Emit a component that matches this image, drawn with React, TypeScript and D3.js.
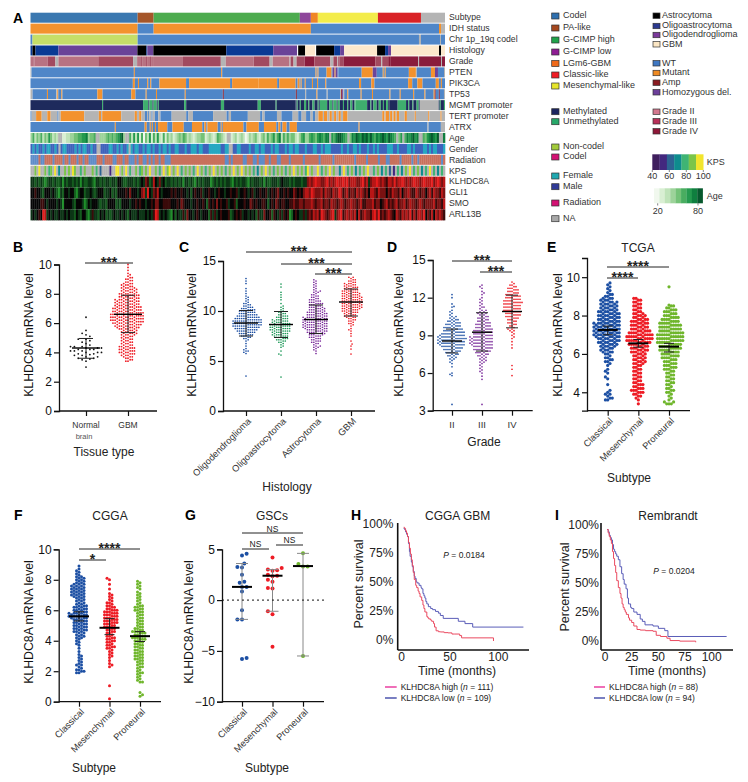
import React, { useEffect, useRef } from 'react';
import * as d3 from 'd3';

const FONT = '"Liberation Sans", Arial, sans-serif';

// ---- panel A: annotation tracks, run lengths ----
const subtypeRuns = 'C107 P16 H146 L11 G7 Y60 R43 n24';
const idhRuns = 'M107 W16 M157 W128 M2 n4';
const codelRuns = 'W2 L105 W281 n2 W19 n1 W4';
const histologyRuns =
  'O2 K3 O23 D79 K9 O1 D6 K73 O47 D24 w1 K7 G10 w1 K18 O6 D4 G33 K8 O3 D3 G48 K2 G4';
const gradeRuns =
  'a3 b1 a13 b8 n3 a40 b35 n4 a4 b1 a4 b1 a3 b1 a2 a30 b38 n5 a28 b16 n3 a17 n1 b3 n3 b8 c10 b16 n3 b4 n1 c1 b4 c32 b6 n1 b6 c2 c28 n1 c22 n1 c3';
const ptenRuns =
  'n1 W102 M1 W86 M1 W93 M1 W1 M1 W8 M5 W1 H2 M1 H2 W1 W23 M11 H4 W6 M1 W1 M1 W23 M7 n1 W14 M4 H3 W6 n1';
const pik3caRuns =
  'W100 M2 W3 M1 W8 M1 W2 M1 W8 M26 W3 M40 W2 M26 M18 W2 M16 W2 M2 W1 M1 W3 M1 W6 M1 W4 M1 W7 M1 W32 M2 W10 M3 W33 M4 W5 M5 W13 M3 W2 M1 W3';
const tp53Runs =
  'n2 W14 M1 W8 n1 M1 W3 M1 W34 M5 W28 M4 W10 M1 W9 M1 W27 M1 W36 A1 W70 A1 W8 n1 W10 M1 W9 n1 W12 n1 A1 H1 n1 W3 M1 W12 M1 W10 M1 W16 M1 W9 M1 W12 M1 W10 M1 W8 M1 A1 W3 A1 W4 n1';
const mgmtRuns =
  'D68 U1 D38 U5 D1 U3 D1 U3 D1 U1 D24 U2 D33 U3 D32 U3 D14 U1 D18 D1 U1 D2 U1 D3 U2 D2 U1 D3 U2 D3 U1 D1 U7 D2 U3 D1 U3 D1 U2 D3 U1 D3 U1 D2 U2 D2 U1 U11 D3 U1 D2 U3 D2 U2 D2 U1 D2 U2 D1 D8 U8 D2 U1 D3 U1 D3 U2 D1 n18 D1 U1 D3 U1';
const tertRuns =
  'W1 n4 M5 n5 M3 n6 W1 n2 M21 n13 M2 n1 M17 n12 M2 n2 M2 n3 W2 n1 W1 n2 W1 n2 W3 n2 W10 n13 W2 n4 W18 n12 W2 n2 W15 n11 W2 n2 W11 n4 W10 n5 W3 n4 W4 n2 W2 n3 M4 n1 M3 n2 M2 n2 M2 n2 M2 n2 M4 n31 M2 n1 M3 n1 M2 n1 M2 n1 M2 n5 M2 n7 M1 n11 M1 n10 M1 n3';
const atrxRuns =
  'W82 M1 W28 M2 W3 M1 W1 M1 W2 M1 W2 M1 M8 W5 M11 W8 M10 W2 M2 W1 M10 W3 M1 W1 M5 M15 W3 M12 W5 M12 W2 M2 W2 M4 W3 M7 W60 M1 W66 n1 W12 n4';

// ---- stripes: one character per sample, three stretches across the width ----
const ageStripes = [
  '352435243642 32..1122334455667344 5..333454545678 3..5262615042615262 1514'.replace(/ /g, ''),
  '23123435423212334412321254321..12312320132342134253463572535344213563',
  '35654676577.65788765.47687687868657678768765.46.5767867..54678768..7',
];
const genderStripes = [
  'MFMFMMFMFFMMFM.MFFMMMMFMFMFFMMFMM..MMMMFFMMFMFMMF.FMFFMMFMFFMFMMFMFFM',
  'FMMFFMMMFMMFFFMFFMMMFFFFFFMMFF..MMFFMMMMFMMFFMFFMMMFMFFMMMFMFFMFFMMMF',
  'MMMFFMMFMFFFMMMMMFMMFMMFFMFMMMFMMFMFMMMMFFFMMFMMMMFFMFMMMMFFMFMFFMMMF',
];
const radiationStripes = [
  'NNNNRNNRRRRNRRRRNRRNRRRNRRNRRNNNNRRRNRRRRNNRRRNRRNNNRNRRNNRNRNRRNRRNN',
  'NRRRRRRRRRRRRRRRRRRRRRRRRRRRNNRNRRRRRNNRRRNNRNNNRRNRRRNNRRRRNRRRRRRNR',
  'RRRRRRNRRRRRRNRRRRRRRRRRNRRRRRNRRRRRNRRRNNRRRRRNRRRRRNRRNRRRRRRRRRRRNR',
];
const kpsStripes = [
  '..5.6..5.45.6.3..5.5.65..4.5...5.4.2....1..66.5.6.4..5.45.5.6..5.4.6.5',
  '6.5.6.4.5.5.4.6.5.4.5.6.5.5.4.5.6.5.6.5.5.4.3.5.6.5.4.5.5.4.5.6.5.5.4',
  '6.5..6.4.5.6.5..3.6.4.5.3.4.5.6..4.5.3.4.2.1.4.3.5.6.4.5.3.4.6.4.3.4.',
];
const klhdc8aStripes = [
  '3323232123323223132332323132233213323233233244322333232343652374363423',
  '3232323133232132323331232323233213232332132333231322333234333232333233',
  '6767877667867678778786777667867367787676577686778767678776787778678767',
];
const gli1Stripes = [
  '4454432444343213244344213442334323444233423244445464443467384365743444',
  '4545445443424544534454434544344544534454345344544534545644545446545467',
  '7687666757665766875675665767656477657666465766574667655765664675766576',
];
const smoStripes = [
  '4444455434444343144443244431243444323324444232444434454544344546644555',
  '5444546544434454454254546454453445244454465454455424546545544556556656',
  '6676566756657665676566766567556667566456756567566756766567656666756657',
];
const arl13bStripes = [
  '3434548734343343343433243244213533243423234334343243334333434358734343',
  '2142433536443454344425353454445234545344343425336445254353545124543353',
  '5657675876567836785676767475676657868565676547657676857577684657476765',
];

const NA = '#b4b4b4';
const altColors: Record<string, string> = { W: '#4f86c8', M: '#f3922e', A: '#8e2230', H: '#6c449a', n: NA };
const agePalette = ['#f1f8ee', '#d9efd3', '#bfe3b9', '#9dd39a', '#74c278', '#49ad60', '#259a4f', '#0f7f3f', '#07592e'];
const kpsPalette = ['#3f1f5e', '#43287f', '#2d6392', '#0e8c8e', '#3fb474', '#7bc549', '#f2e52d'];
const exprPalette = ['#35c435', '#1f8f2a', '#145c1e', '#0c3516', '#050505', '#3a0a0a', '#7a1212', '#b81616', '#e81c1c'];

const subtypeColors = { C: '#3b78b0', P: '#a5562a', H: '#4dac4f', L: '#8e479b', G: '#f08626', Y: '#f3ec4a', R: '#d92226', n: NA };
const histColors = { O: '#0a3a94', D: '#6a4398', K: '#000000', G: '#fce8cc', w: '#ffffff', n: NA };
const gradeColors = { a: '#b87282', b: '#a24a60', c: '#8a1c3c', n: NA };
const mgmtColors = { D: '#1e2a5c', U: '#3fae6e', n: NA };
const genderColors = { F: '#26a8c2', M: '#3f62bb', '.': NA };
const radColors = { R: '#c8705c', N: '#5f8cc8', '.': NA };

const digitColors = (pal: string[]) => {
  const o: Record<string, string> = { '.': NA };
  pal.forEach((c, i) => (o[String(i)] = c));
  return o;
};

const runTracks = [
  { label: 'Subtype', runs: subtypeRuns, colors: subtypeColors },
  { label: 'IDH status', runs: idhRuns, colors: altColors },
  { label: 'Chr 1p_19q codel', runs: codelRuns, colors: { W: '#4f86c8', L: '#c5de68', n: NA } },
  { label: 'Histology', runs: histologyRuns, colors: histColors },
  { label: 'Grade', runs: gradeRuns, colors: gradeColors },
  { label: 'PTEN', runs: ptenRuns, colors: altColors },
  { label: 'PIK3CA', runs: pik3caRuns, colors: altColors },
  { label: 'TP53', runs: tp53Runs, colors: altColors },
  { label: 'MGMT promoter', runs: mgmtRuns, colors: mgmtColors },
  { label: 'TERT promoter', runs: tertRuns, colors: altColors },
  { label: 'ATRX', runs: atrxRuns, colors: altColors },
];
const stripeTracks = [
  { label: 'Age', rows: ageStripes, colors: digitColors(agePalette) },
  { label: 'Gender', rows: genderStripes, colors: genderColors },
  { label: 'Radiation', rows: radiationStripes, colors: radColors },
  { label: 'KPS', rows: kpsStripes, colors: digitColors(kpsPalette) },
  { label: 'KLHDC8A', rows: klhdc8aStripes, colors: digitColors(exprPalette) },
  { label: 'GLI1', rows: gli1Stripes, colors: digitColors(exprPalette) },
  { label: 'SMO', rows: smoStripes, colors: digitColors(exprPalette) },
  { label: 'ARL13B', rows: arl13bStripes, colors: digitColors(exprPalette) },
];

// legend entries
const legendCol1 = [
  ['Codel', '#2f6fae', 16], ['PA-like', '#a5481f', 28], ['G-CIMP high', '#21a24a', 40], ['G-CIMP low', '#8e1d93', 52],
  ['LGm6-GBM', '#f06a1a', 63.5], ['Classic-like', '#ee1c25', 75], ['Mesenchymal-like', '#e6e52c', 86],
  ['Methylated', '#1c2560', 111.7], ['Unmethylated', '#27a869', 121.7], ['Non-codel', '#a2cb3a', 147],
  ['Codel', '#d31173', 157], ['Female', '#1fa8b0', 176], ['Male', '#303b97', 186.7], ['Radiation', '#d31173', 203], ['NA', '#a8a8a8', 218.7],
] as [string, string, number][];
const legendCol2 = [
  ['Astrocytoma', '#000000', 15.7], ['Oligoastrocytoma', '#2b3990', 26], ['Oligodendroglioma', '#7b3a9b', 35], ['GBM', '#fbe6c4', 44.3],
  ['WT', '#3f77c2', 63.3], ['Mutant', '#ee8a23', 73], ['Amp', '#8a1c22', 82.7], ['Homozygous del.', '#6c3f9a', 92.3],
  ['Grade II', '#d3788f', 111.7], ['Grade III', '#b83059', 121.3], ['Grade IV', '#8e1738', 131.3],
] as [string, string, number][];
const kpsTicks = [40, 60, 80, 100];
const ageTicks = [20, 80];

// ---- swarm panels: number of dots per level, bottom to top, plus lone dots ----
const normalBrainValues = [3.0, 3.4, 3.5, 3.55, 3.6, 3.6, 3.7, 3.7, 3.8, 3.8, 3.85, 3.9, 3.9, 4.0, 4.0, 4.0, 4.1, 4.1, 4.1, 4.2, 4.2, 4.2, 4.3, 4.3, 4.3, 4.4, 4.4, 4.4, 4.5, 4.6, 4.7, 4.8, 4.9, 4.9, 5.1, 5.2, 5.3, 5.5, 6.4];
const gbmCounts = [2, 2, 2, 3, 3, 4, 4, 4, 4, 4, 4, 3, 3, 3, 3, 3, 3, 3, 4, 4, 4, 4, 5, 6, 6, 7, 7, 8, 8, 8, 8, 8, 8, 8, 7, 7, 7, 7, 6, 6, 6, 6, 6, 5, 5, 5, 5, 4, 4, 4, 4, 3, 3, 3, 2, 2, 2, 2, 1, 1, 1, 0, 1, 0, 1, 0, 1];

const oligodendroCounts = [1, 1, 2, 1, 1, 0, 1, 0, 1, 0, 1, 1, 2, 2, 3, 3, 4, 4, 5, 5, 6, 6, 7, 7, 7, 7, 7, 7, 6, 6, 5, 5, 4, 4, 4, 4, 3, 3, 2, 2, 2, 1, 1, 1, 1, 1, 1, 0, 1, 0, 1, 0, 1, 0, 0, 0, 1, 0, 1, 0, 1, 0];
const oligoastroCounts = [1, 0, 0, 1, 1, 1, 1, 2, 2, 3, 3, 3, 4, 4, 4, 4, 5, 5, 5, 5, 5, 5, 5, 4, 4, 4, 3, 3, 3, 2, 2, 2, 1, 1, 1, 1, 1, 0, 1, 0, 0, 1, 0, 1, 0, 1, 0, 1];
const astroCounts = [1, 0, 1, 1, 1, 2, 2, 1, 2, 2, 3, 2, 3, 3, 3, 4, 4, 5, 5, 5, 6, 6, 6, 6, 6, 6, 6, 6, 6, 6, 5, 5, 5, 5, 4, 4, 4, 4, 3, 3, 4, 3, 3, 3, 2, 2, 2, 2, 1, 2, 2, 1, 1, 1, 1, 1, 1, 1, 1, 1];
const histGbmCounts = [1, 0, 1, 0, 1, 1, 1, 0, 1, 1, 2, 1, 2, 2, 2, 3, 3, 3, 3, 4, 4, 4, 5, 5, 5, 5, 5, 5, 5, 5, 5, 5, 5, 4, 5, 4, 4, 4, 3, 4, 3, 3, 3, 2, 2, 2, 1, 2];

const gradeIICounts = [1, 0, 1, 1, 1, 2, 2, 3, 3, 4, 4, 5, 5, 6, 7, 7, 7, 7, 8, 7, 7, 6, 6, 5, 5, 5, 4, 4, 4, 3, 3, 2, 2, 1, 1, 1, 1, 0, 1, 0, 1, 0];
const gradeIIICounts = [1, 0, 1, 0, 1, 1, 1, 1, 1, 1, 1, 2, 2, 2, 2, 3, 3, 4, 4, 5, 5, 5, 6, 6, 6, 6, 6, 6, 5, 5, 5, 5, 5, 4, 4, 4, 4, 3, 3, 3, 3, 2, 3, 2, 2, 1, 2, 1, 1, 1, 1, 1, 1, 0, 1, 1, 1, 0, 1, 1, 1];
const gradeIVCounts = [1, 0, 1, 0, 1, 1, 1, 1, 1, 2, 2, 1, 2, 2, 3, 2, 3, 3, 4, 4, 4, 4, 5, 4, 5, 4, 5, 5, 5, 4, 4, 4, 4, 3, 3, 3, 3, 2, 2, 1, 1];

const tcgaClassicalCounts = [2, 2, 1, 2, 1, 1, 0, 0, 1, 0, 0, 1, 1, 0, 1, 1, 1, 0, 1, 1, 2, 2, 2, 1, 2, 3, 3, 3, 4, 4, 5, 5, 5, 6, 6, 6, 6, 6, 6, 6, 6, 5, 5, 5, 5, 5, 5, 4, 4, 4, 4, 4, 3, 3, 2, 2, 1, 1, 1, 1, 1, 1];
const tcgaMesenchymalCounts = [1, 0, 1, 1, 2, 2, 3, 3, 3, 2, 3, 2, 2, 2, 2, 2, 2, 2, 2, 2, 2, 3, 3, 3, 3, 3, 3, 4, 4, 4, 4, 5, 5, 6, 6, 6, 6, 5, 5, 4, 4, 4, 4, 4, 4, 3, 3, 3, 2, 2, 2, 2, 2, 2, 2, 2];
const tcgaProneuralCounts = [3, 2, 1, 1, 1, 1, 2, 2, 2, 1, 2, 2, 2, 2, 2, 2, 2, 2, 3, 3, 3, 3, 3, 3, 4, 4, 4, 4, 5, 5, 5, 5, 6, 6, 6, 6, 6, 6, 5, 5, 5, 5, 5, 4, 4, 4, 3, 3, 3, 3, 2, 2];

const cggaClassicalCounts = [2, 2, 2, 1, 1, 2, 1, 1, 1, 1, 1, 1, 1, 0, 1, 0, 1, 0, 1, 1, 1, 1, 1, 2, 2, 2, 2, 3, 3, 3, 3, 3, 3, 3, 3, 3, 4, 4, 4, 4, 3, 3, 3, 3, 3, 2, 2, 2, 2, 2, 3, 3, 3, 3, 3, 3, 3, 3, 3, 2, 2, 2, 2, 2, 1, 1, 1, 1, 1, 0, 1, 0];
const cggaMesenchymalCounts = [1, 1, 1, 0, 1, 0, 1, 1, 1, 1, 1, 1, 2, 2, 2, 1, 2, 2, 2, 2, 2, 1, 2, 2, 2, 2, 3, 2, 3, 3, 3, 3, 3, 3, 3, 3, 3, 3, 2, 2, 2, 1, 2, 1, 1, 1, 1, 1, 1, 0, 0, 1, 0, 0, 1, 0, 0, 1];
const cggaProneuralCounts = [2, 1, 1, 1, 1, 1, 2, 1, 1, 1, 2, 1, 2, 1, 2, 2, 2, 2, 2, 2, 2, 2, 2, 2, 2, 2, 2, 2, 3, 3, 3, 2, 3, 3, 2, 2, 2, 1, 2, 1, 2, 1, 2, 1, 2, 1, 2, 2, 2, 2, 2, 1, 1, 1, 1, 1, 1, 1, 1, 1, 0, 1, 1, 1, 1, 1, 1];

const gscClassical = [4.4, 4.55, 3.6, 3.25, 3.2, 2.5, 1.8, 1.7, 1.3, 1.3, 0.85, -1.0, -1.9, -1.9, -5.7, -5.8];
const gscMesenchymal = [4.2, 3.15, 3.0, 2.95, 2.9, 2.5, 2.4, 2.35, 2.0, 1.8, 1.2, 1.15, -1.1, -1.4, -4.6];
const gscProneural = [4.6, 3.55, 3.3, 3.3, -5.5];

const BLUE = '#1c4fa3';
const RED = '#ee1c25';
const GREEN = '#1f9a5a';
const PURPLE = '#7b2c9b';
const LIME = '#6fb62c';

const expand = (counts: number[], from: number, step: number, extra: number[] = []) => {
  const out = [...extra];
  counts.forEach((n, i) => d3.range(n).forEach(() => out.push(from + i * step)));
  return out;
};

// greedy swarm: each dot takes the free slot nearest the centre line
function swarm(values: number[], y: (v: number) => number, cx: number, d: number) {
  const sorted = [...values].sort((a, b) => a - b);
  const placed: { x: number; y: number }[] = [];
  let row = 0;
  sorted.forEach((v, i) => {
    if (i && v !== sorted[i - 1]) row++;
    const py = y(v);
    const s = row % 2 ? 1 : -1;
    for (let k = 0; k < 80; k++) {
      const off = k === 0 ? 0 : (k % 2 ? s : -s) * Math.ceil(k / 2) * d * 0.5;
      const px = cx + off;
      if (placed.every(p => (p.x - px) ** 2 + (p.y - py) ** 2 >= d * d * 0.98)) {
        placed.push({ x: px, y: py });
        break;
      }
    }
  });
  return placed;
}

const LeftAxis = ({ y, x, ticks }: any) => {
  const ref = useRef<SVGGElement>(null);
  useEffect(() => {
    const g = d3.select(ref.current);
    g.call(d3.axisLeft(y).tickValues(ticks).tickSize(5).tickPadding(2).tickFormat(d3.format('d')) as any);
    g.selectAll('.domain').attr('stroke-width', 1.3).attr('stroke', '#111');
    g.selectAll('.tick line').attr('stroke-width', 1.2).attr('stroke', '#111');
    g.selectAll('text').attr('font-size', 12).attr('font-family', FONT).attr('fill', '#111');
  }, []);
  return <g ref={ref} transform={`translate(${x},0)`} />;
};

const BottomTicks = ({ x, yPos }: any) => {
  const ref = useRef<SVGGElement>(null);
  useEffect(() => {
    const g = d3.select(ref.current);
    g.call(d3.axisBottom(x).tickSize(5).tickFormat(() => '') as any);
    g.selectAll('.domain').remove();
    g.selectAll('.tick line').attr('stroke-width', 1.2).attr('stroke', '#111');
  }, []);
  return <g ref={ref} transform={`translate(0,${yPos})`} />;
};

const Sig = ({ x1, x2, y, label, size = 14, dy = 4, weight = 'bold' }: any) => (
  <g>
    <line x1={x1} x2={x2} y1={y} y2={y} stroke="#222" strokeWidth={1} />
    <text x={(x1 + x2) / 2} y={y + dy} textAnchor="middle" fontSize={size} fontWeight={weight} fontFamily={FONT} fill="#222">{label}</text>
  </g>
);

const SwarmPanel = ({ p }: any) => {
  const y = d3.scaleLinear().domain(p.domain).range(p.yRange);
  const x = d3.scalePoint<string>().domain(p.cats).range(p.catRange);
  const bottom = p.yRange[0];
  return (
    <g>
      <LeftAxis y={y} x={p.axisX} ticks={p.ticks} />
      <line x1={p.axisX} x2={p.axisEnd} y1={bottom} y2={bottom} stroke="#111" strokeWidth={1.3} />
      <BottomTicks x={x} yPos={bottom} />
      {p.groups.map((g: any) =>
        swarm(g.values, y, x(g.cat)!, p.spacing * (g.spread || 1)).map((c, i) => (
          <circle key={g.cat + i} cx={c.x} cy={c.y} r={p.r} fill={g.color} />
        ))
      )}
      {p.groups.map((g: any) => {
        const cx = x(g.cat)!;
        return (
          <g key={g.cat} stroke={p.errColor || '#222'} strokeWidth={1}>
            <line x1={cx} x2={cx} y1={y(g.sd[0])} y2={y(g.sd[1])} />
            <line x1={cx - p.capW} x2={cx + p.capW} y1={y(g.sd[0])} y2={y(g.sd[0])} />
            <line x1={cx - p.capW} x2={cx + p.capW} y1={y(g.sd[1])} y2={y(g.sd[1])} />
            <line x1={cx - p.meanW} x2={cx + p.meanW} y1={y(g.mean)} y2={y(g.mean)} stroke="#000" strokeWidth={p.meanSw || 1.4} />
          </g>
        );
      })}
      {p.labels === 'rotated'
        ? p.cats.map((c: string) => (
            <text key={c} transform={`translate(${x(c)! + 4},${bottom + 9}) rotate(-45)`} textAnchor="end" dominantBaseline="middle"
              fontSize={9.3} fontFamily={FONT} fill="#333">{c}</text>
          ))
        : p.cats.map((c: string) => (
            <text key={c} x={x(c)} y={bottom + 17} textAnchor="middle" fontSize={p.catSize || 8.5} fontFamily={FONT} fill="#333">{c}</text>
          ))}
      <text transform={`translate(${p.titleX},${p.titleY}) rotate(-90)`} textAnchor="middle" dominantBaseline="middle" fontSize={12.3} fontFamily={FONT} fill="#111">KLHDC8A mRNA level</text>
      <text x={p.xLabelX} y={p.xLabelY} textAnchor="middle" fontSize={12} fontFamily={FONT} fill="#222">{p.xLabel}</text>
      {p.heading && <text x={p.headingX} y={p.headingY} textAnchor="middle" fontSize={12} fontFamily={FONT} fill="#222">{p.heading}</text>}
      {p.sig.map((s: any, i: number) => <Sig key={i} {...s} />)}
    </g>
  );
};

const subtypes = ['Classical', 'Mesenchymal', 'Proneural'];
const swarmPanels = [
  {
    domain: [0, 10], yRange: [411, 264.5], ticks: [0, 2, 4, 6, 8, 10], axisX: 59, axisEnd: 157, cats: ['Normal', 'GBM'], catRange: [86, 128],
    r: 0.9, spacing: 2.15, capW: 7, meanW: 14, labels: 'plain', titleX: 30, titleY: 335, xLabel: 'Tissue type', xLabelX: 104, xLabelY: 456,
    groups: [
      { cat: 'Normal', values: normalBrainValues, color: '#111', mean: 4.3, sd: [3.6, 4.95], spread: 1.8 },
      { cat: 'GBM', values: expand(gbmCounts, 3.4, 0.1), color: RED, mean: 6.6, sd: [5.35, 7.9] },
    ],
    sig: [{ x1: 85, x2: 133, y: 263, label: '***' }],
  },
  {
    domain: [0, 15], yRange: [411, 261], ticks: [0, 5, 10, 15], axisX: 223, axisEnd: 375, cats: ['Oligodendroglioma', 'Oligoastrocytoma', 'Astrocytoma', 'GBM'], catRange: [246, 351],
    r: 0.85, spacing: 2.15, capW: 7, meanW: 12, labels: 'rotated', titleX: 193, titleY: 335, xLabel: 'Histology', xLabelX: 287, xLabelY: 491,
    groups: [
      { cat: 'Oligodendroglioma', values: expand(oligodendroCounts, 5.75, 0.125, [3.5]), color: BLUE, mean: 8.8, sd: [7.5, 10.05] },
      { cat: 'Oligoastrocytoma', values: expand(oligoastroCounts, 6, 0.125, [3.4, 5.6, 5.7, 12.4, 12.7]), color: GREEN, mean: 8.65, sd: [7.35, 9.95] },
      { cat: 'Astrocytoma', values: expand(astroCounts, 5.75, 0.125), color: PURPLE, mean: 9.15, sd: [7.75, 10.6] },
      { cat: 'GBM', values: expand(histGbmCounts, 7.5, 0.125, [5.7, 6.2, 6.5, 6.7, 7.0]), color: RED, mean: 10.9, sd: [9.5, 12.2] },
    ],
    sig: [{ x1: 246, x2: 352, y: 252, label: '***' }, { x1: 281, x2: 352, y: 264, label: '***' }, { x1: 315, x2: 352, y: 274, label: '***' }],
  },
  {
    domain: [3, 15], yRange: [410.7, 260], ticks: [3, 6, 9, 12, 15], axisX: 432.7, axisEnd: 532.7, cats: ['II', 'III', 'IV'], catRange: [452, 512],
    r: 0.85, spacing: 2, capW: 6, meanW: 10, catSize: 9.5, labels: 'plain', titleX: 400, titleY: 335, xLabel: 'Grade', xLabelX: 484, xLabelY: 446,
    groups: [
      { cat: 'II', values: expand(gradeIICounts, 6.5, 0.125, [3.5, 5.8, 5.9, 6.0, 11.3, 12.0, 12.25]), color: BLUE, mean: 8.55, sd: [7.6, 9.5] },
      { cat: 'III', values: expand(gradeIIICounts, 5.5, 0.125, [3.5]), color: PURPLE, mean: 9.25, sd: [7.75, 10.8] },
      { cat: 'IV', values: expand(gradeIVCounts, 8.25, 0.125, [5.8, 6.3, 6.6, 8.0]), color: RED, mean: 10.9, sd: [9.6, 12.2] },
    ],
    sig: [{ x1: 452, x2: 512, y: 261, label: '***' }, { x1: 480, x2: 512, y: 272, label: '***' }],
  },
  {
    domain: [3.04, 11], yRange: [410.7, 258], ticks: [4, 6, 8, 10], axisX: 587, axisEnd: 690, cats: subtypes, catRange: [607.7, 669],
    r: 1.6, spacing: 2.3, capW: 5, meanW: 10, meanSw: 2, labels: 'rotated', titleX: 559, titleY: 335, xLabel: 'Subtype', xLabelX: 629, xLabelY: 482,
    heading: 'TCGA', headingX: 638, headingY: 252,
    groups: [
      { cat: 'Classical', values: expand(tcgaClassicalCounts, 3.6, 0.1), color: BLUE, mean: 7.25, sd: [7.0, 7.45] },
      { cat: 'Mesenchymal', values: expand(tcgaMesenchymalCounts, 3.4, 0.1), color: RED, mean: 6.55, sd: [6.35, 6.75] },
      { cat: 'Proneural', values: expand(tcgaProneuralCounts, 3.4, 0.1, [8.55, 9.5]), color: LIME, mean: 6.38, sd: [6.1, 6.55] },
    ],
    sig: [{ x1: 607, x2: 669, y: 267, label: '****' }, { x1: 607, x2: 638, y: 278, label: '****' }],
  },
  {
    domain: [0, 10], yRange: [701.7, 549.3], ticks: [0, 2, 4, 6, 8, 10], axisX: 58.7, axisEnd: 161, cats: subtypes, catRange: [79, 140],
    r: 1.5, spacing: 2.5, capW: 5, meanW: 10, meanSw: 2, labels: 'rotated', titleX: 30, titleY: 622, xLabel: 'Subtype', xLabelX: 94, xLabelY: 772,
    heading: 'CGGA', headingX: 110, headingY: 520,
    groups: [
      { cat: 'Classical', values: expand(cggaClassicalCounts, 1.9, 0.1), color: BLUE, mean: 5.6, sd: [5.3, 5.9] },
      { cat: 'Mesenchymal', values: expand(cggaMesenchymalCounts, 2.3, 0.1, [0.2, 1.05, 8.1]), color: RED, mean: 4.85, sd: [4.4, 5.45] },
      { cat: 'Proneural', values: expand(cggaProneuralCounts, 1.3, 0.1, [0.35, 0.45, 0.6]), color: LIME, mean: 4.3, sd: [3.95, 4.6] },
    ],
    sig: [{ x1: 79, x2: 140, y: 549, label: '****' }, { x1: 79, x2: 106, y: 560, label: '*' }],
  },
  {
    domain: [-10, 5], yRange: [701.7, 549.3], ticks: [-10, -5, 0, 5], axisX: 222, axisEnd: 324, cats: subtypes, catRange: [242, 303],
    r: 2, spacing: 4.6, capW: 6, meanW: 10, meanSw: 2, errColor: '#888', labels: 'rotated', titleX: 190, titleY: 622, xLabel: 'Subtype', xLabelX: 267, xLabelY: 772,
    heading: 'GSCs', headingX: 272, headingY: 520,
    groups: [
      { cat: 'Classical', values: gscClassical, color: BLUE, mean: 1.3, sd: [-1.9, 3.6] },
      { cat: 'Mesenchymal', values: gscMesenchymal, color: RED, mean: 2.4, sd: [-1.1, 3.0] },
      { cat: 'Proneural', values: gscProneural, color: LIME, mean: 3.35, sd: [-5.5, 4.6] },
    ],
    sig: [
      { x1: 242, x2: 303, y: 533, label: 'NS', size: 8.5, dy: -1.5, weight: 'normal' },
      { x1: 242, x2: 269, y: 549, label: 'NS', size: 8.5, dy: -2.5, weight: 'normal' },
      { x1: 276, x2: 303, y: 545, label: 'NS', size: 8.5, dy: -2, weight: 'normal' },
    ],
  },
];

// ---- survival curves: [months, percent surviving] ----
const hHighTimes = [2, 3, 4, 5, 6, 7, 8, 9, 10, 11, 12, 13, 14.5, 15.5, 17, 18, 19, 20.7, 22, 23, 24, 26, 27, 28, 30, 31, 33, 34, 35.6, 38, 40, 44, 48, 52, 55, 60, 62, 95];
const hHighSurv = [98, 97, 95, 93, 90, 85, 80, 75, 70, 65, 59, 53, 48, 46, 43, 41, 38, 35, 31, 28, 25, 21, 20, 19, 18, 17, 15, 12, 8.8, 8, 7.8, 7.2, 7, 6, 6, 4.7, 2.7, 0];
const hLowTimes = [2, 3, 4, 5, 6, 7, 8, 8.7, 10, 11, 12, 13, 13.8, 15, 16, 18, 20, 20.7, 22, 23, 24, 25, 26, 27.6, 30, 32, 35, 38, 40, 43, 58.6, 65.5, 73.5, 126];
const hLowSurv = [97, 96, 94, 92, 90, 84, 77, 73, 68, 64, 60, 56, 54, 51, 50, 48, 46, 45, 41, 39, 37, 34, 32, 29.6, 28, 27, 25.5, 24, 22, 19.5, 17, 15, 12, 12];
const iHighTimes = [2, 3, 4, 5, 6, 7, 8, 9, 10, 11, 12.5, 14, 15, 16, 17, 18, 19, 20, 22, 23, 25, 27, 30, 33, 38, 45, 48, 52, 58, 61, 70, 85];
const iHighSurv = [97, 94, 91, 88, 85, 78, 72, 66, 60, 53, 47, 42, 38, 33, 30, 28, 26, 24, 21, 19, 17, 14, 11, 10.5, 10, 9.5, 6, 5, 3.5, 1.5, 1, 0];
const iLowTimes = [2, 3, 4, 5, 6, 7, 8, 9, 10, 11, 12.5, 14, 15.6, 17, 18, 19.7, 21, 22, 24, 25, 27, 30, 33, 35, 37.5, 45, 50, 56, 59, 114];
const iLowSurv = [97, 95, 92, 90, 88, 84, 80, 78, 76, 74, 71, 65, 59, 54, 50, 46, 38, 33, 30, 29, 26, 24, 20, 18, 15, 14, 12, 10, 5, 5];
const pctTicks = [0, 25, 50, 75, 100];

const survivalPanels = [
  {
    x0: 401.7, pxPerMonth: 0.966, y0: 641, y100: 525, axisX: 397.7, axisEnd: 529, bottom: 650, xTicks: [0, 50, 100], title: 'CGGA GBM', titleX: 457.7,
    ylabelX: 360, ylabelY: 584, tickX: 393.3, timeX: 457, pX: 464, pY: 558, pText: '0.0184',
    high: [hHighTimes, hHighSurv], low: [hLowTimes, hLowSurv], legX: 385, legEnd: 396.7, legText: 400.7, highN: '111', lowN: '109',
  },
  {
    x0: 605, pxPerMonth: 1.067, y0: 642.3, y100: 526, axisX: 601, axisEnd: 733, bottom: 650, xTicks: [0, 25, 50, 75, 100], title: 'Rembrandt', titleX: 668,
    ylabelX: 566, ylabelY: 587, tickX: 599, timeX: 667, pX: 674, pY: 573.5, pText: '0.0204',
    high: [iHighTimes, iHighSurv], low: [iLowTimes, iLowSurv], legX: 594, legEnd: 605, legText: 609, highN: '88', lowN: '94',
  },
];

const SurvivalPanel = ({ p }: any) => {
  const x = d3.scaleLinear().domain([0, 100]).range([p.x0, p.x0 + 100 * p.pxPerMonth]);
  const y = d3.scaleLinear().domain([0, 100]).range([p.y0, p.y100]);
  const line = d3.line<[number, number]>().x(d => x(d[0])).y(d => y(d[1])).curve(d3.curveStepAfter);
  const zip = (s: number[][]) => s[0].map((t, i) => [t, s[1][i]] as [number, number]);
  const t = { fontFamily: FONT, fill: '#222' };
  return (
    <g>
      <line x1={p.axisX} x2={p.axisX} y1={523} y2={p.bottom} stroke="#111" strokeWidth={1.6} />
      <line x1={p.axisX} x2={p.axisEnd} y1={p.bottom} y2={p.bottom} stroke="#111" strokeWidth={1.6} />
      {pctTicks.map(v => (
        <text key={v} x={p.tickX} y={y(v)} textAnchor="end" dominantBaseline="middle" fontSize={12} {...t}>{v}%</text>
      ))}
      {p.xTicks.map((v: number) => (
        <text key={v} x={x(v)} y={661} textAnchor="middle" fontSize={12} {...t}>{v}</text>
      ))}
      <path d={line(zip(p.low))!} fill="none" stroke="#5a5db8" strokeWidth={1} />
      <path d={line(zip(p.high))!} fill="none" stroke="#ea4a60" strokeWidth={1} />
      <text transform={`translate(${p.ylabelX},${p.ylabelY}) rotate(-90)`} textAnchor="middle" dominantBaseline="middle" fontSize={12.5} {...t}>Percent survival</text>
      <text x={p.timeX} y={675} textAnchor="middle" fontSize={12.2} {...t}>Time (months)</text>
      <text x={p.titleX} y={520} textAnchor="middle" fontSize={12} {...t}>{p.title}</text>
      <text x={p.pX} y={p.pY} textAnchor="middle" fontSize={8.5} {...t}><tspan fontStyle="italic">P</tspan> = {p.pText}</text>
      <line x1={p.legX} x2={p.legEnd} y1={687} y2={687} stroke="#e8319a" strokeWidth={1.4} />
      <line x1={p.legX} x2={p.legEnd} y1={698} y2={698} stroke="#3f48a8" strokeWidth={1.4} />
      <text x={p.legText} y={690} fontSize={8.5} {...t}>KLHDC8A high (<tspan fontStyle="italic">n</tspan> = {p.highN})</text>
      <text x={p.legText} y={701} fontSize={8.5} {...t}>KLHDC8A low (<tspan fontStyle="italic">n</tspan> = {p.lowN})</text>
    </g>
  );
};

const parseRuns = (s: string) =>
  s.split(/\s+/).map(tok => ({ key: tok[0], n: +tok.slice(1) }));

const trackX = d3.scaleLinear().domain([0, 1]).range([30.5, 445]);
const TRACK_TOP = 12.7;
const PITCH = 10.93;

const RunTrack = ({ t, row }: any) => {
  const runs = parseRuns(t.runs);
  const total = d3.sum(runs, r => r.n);
  let acc = 0;
  return (
    <g>
      {runs.map((r, i) => {
        const x1 = trackX(acc / total);
        acc += r.n;
        const x2 = trackX(acc / total);
        return <rect key={i} x={x1} width={x2 - x1} y={TRACK_TOP + row * PITCH} height={10} fill={t.colors[r.key]} />;
      })}
    </g>
  );
};

const StripeTrack = ({ t, row, tall }: any) => (
  <g>
    {t.rows.map((chars: string, part: number) =>
      chars.split('').map((c, i) => {
        const x1 = trackX((part + i / chars.length) / 3);
        const x2 = trackX((part + (i + 1) / chars.length) / 3);
        return <rect key={part + '-' + i} x={x1} width={x2 - x1 + 0.3} y={TRACK_TOP + row * PITCH} height={tall ? PITCH : 10} fill={t.colors[c]} />;
      })
    )}
  </g>
);

const panelLetters = [['A', 13, 23], ['B', 13, 252], ['C', 179, 252], ['D', 387, 252], ['E', 547, 252], ['F', 14, 520], ['G', 185, 520], ['H', 351, 520], ['I', 555, 520]] as [string, number, number][];

export default function App() {
  const kpsX = d3.scaleLinear().domain([40, 100]).range([652.3, 703.3]);
  const ageX = d3.scaleLinear().domain([20, 80]).range([657.7, 698]);
  const gscY = d3.scaleLinear().domain([-10, 5]).range([701.7, 549.3]);
  const txt = { fontFamily: FONT, fill: '#333' };
  return (
    <svg width={748} height={782} style={{ position: 'absolute', left: 0, top: 0, background: '#fff' }}>
      {panelLetters.map(([l, x, y]) => (
        <text key={l} x={x} y={y} fontFamily={FONT} fontWeight="bold" fontSize={14} fill="#000">{l}</text>
      ))}

      {runTracks.map((t, i) => <RunTrack key={t.label} t={t} row={i} />)}
      {stripeTracks.map((t, i) => <StripeTrack key={t.label} t={t} row={i + runTracks.length} tall={i >= 4} />)}
      {[...runTracks, ...stripeTracks].map((t, i) => (
        <text key={t.label} x={449} y={TRACK_TOP + i * PITCH + 5.5} dominantBaseline="middle" fontSize={8.7} {...txt}>{t.label}</text>
      ))}

      {legendCol1.map(([label, color, y]) => (
        <g key={label + y}>
          <rect x={551.7} y={y - 3} width={7.3} height={6} fill={color} stroke="#333" strokeWidth={0.7} />
          <text x={563} y={y} dominantBaseline="middle" fontSize={9} {...txt}>{label}</text>
        </g>
      ))}
      {legendCol2.map(([label, color, y]) => (
        <g key={label + y}>
          <rect x={653} y={y - 2.7} width={7} height={5.4} fill={color} stroke="#333" strokeWidth={0.7} />
          <text x={662} y={y} dominantBaseline="middle" fontSize={9} {...txt}>{label}</text>
        </g>
      ))}

      {kpsPalette.map((c, i) => (
        <rect key={c} x={652.3 + (i * 51) / 7} width={51 / 7 + 0.2} y={154.3} height={15.7} fill={c} />
      ))}
      {kpsTicks.map(v => (
        <g key={v}>
          <line x1={kpsX(v)} x2={kpsX(v)} y1={170} y2={172} stroke="#333" strokeWidth={0.6} />
          <text x={kpsX(v)} y={177} dominantBaseline="middle" textAnchor="middle" fontSize={9} {...txt}>{v}</text>
        </g>
      ))}
      <text x={706.7} y={163} dominantBaseline="middle" fontSize={9} {...txt}>KPS</text>
      {agePalette.map((c, i) => (
        <rect key={c} x={654 + (i * 48.7) / 9} width={48.7 / 9 + 0.2} y={188.3} height={15} fill={c} />
      ))}
      {ageTicks.map(v => (
        <g key={v}>
          <line x1={ageX(v)} x2={ageX(v)} y1={203.3} y2={205.5} stroke="#333" strokeWidth={0.6} />
          <text x={ageX(v)} y={212} dominantBaseline="middle" textAnchor="middle" fontSize={9} {...txt}>{v}</text>
        </g>
      ))}
      <text x={706.7} y={196.7} dominantBaseline="middle" fontSize={9} {...txt}>Age</text>

      {swarmPanels.map((p, i) => <SwarmPanel key={i} p={p} />)}
      <text x={84} y={439} textAnchor="middle" fontSize={7.5} fontFamily={FONT} fill="#555">brain</text>
      <line x1={222} x2={324} y1={gscY(0)} y2={gscY(0)} stroke="#111" strokeWidth={1} strokeDasharray="2 3" />
      {survivalPanels.map((p, i) => <SurvivalPanel key={i} p={p} />)}
    </svg>
  );
}
